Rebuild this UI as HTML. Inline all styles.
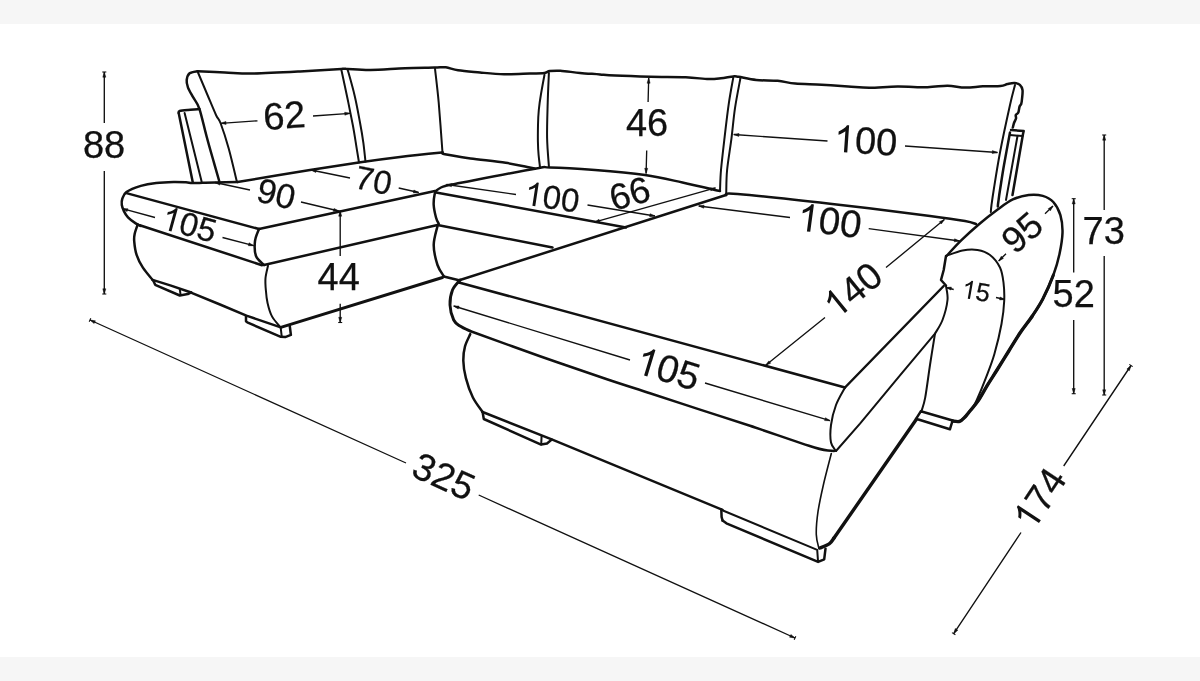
<!DOCTYPE html>
<html><head><meta charset="utf-8"><title>Sofa dimensions</title>
<style>
html,body{margin:0;padding:0;background:#fff;}
body{width:1200px;height:681px;overflow:hidden;position:relative;font-family:"Liberation Sans",sans-serif;}
.top{position:absolute;left:0;top:0;width:1200px;height:24px;background:#f6f6f6;}
.bot{position:absolute;left:0;top:657px;width:1200px;height:24px;background:#f6f6f6;}
svg{position:absolute;left:0;top:0;will-change:transform;filter:blur(0.35px);}
text{font-family:"Liberation Sans",sans-serif;fill:#111;stroke:#111;stroke-width:0.25px;}
g.lbl path{stroke:none;}
</style></head><body>
<div class="top"></div><div class="bot"></div>
<svg width="1200" height="681" viewBox="0 0 1200 681">
<g fill="none" stroke="#111" stroke-width="2.5" stroke-linecap="round" stroke-linejoin="round">
<path d="M219.2,181.0 C218.3,178.0 216.2,170.5 214.1,163.1 C212.0,155.7 209.1,145.8 206.7,136.7 C204.2,127.6 201.6,115.3 199.4,108.8 C197.2,102.3 195.3,101.2 193.4,97.7 C191.5,94.2 189.1,90.5 188.0,87.6 C186.9,84.6 186.4,82.4 186.7,80.0 C187.0,77.6 187.8,74.8 189.6,73.3 C191.4,71.8 196.3,71.5 197.6,71.2"/>
<path d="M197.6,71.2 C202.2,71.4 215.8,72.1 225.0,72.5 C234.2,72.9 240.3,73.8 252.8,73.6 C265.3,73.4 285.2,72.3 300.0,71.5 C314.8,70.7 333.5,69.3 341.4,68.9 C349.3,68.5 342.8,68.8 347.6,69.0 C352.5,69.2 360.9,70.1 370.5,70.0 C380.1,69.9 394.4,68.7 405.0,68.3 C415.6,67.9 427.6,67.8 434.4,67.6 C441.2,67.4 441.9,66.8 445.8,67.3 C449.8,67.8 452.4,69.4 458.1,70.3 C463.8,71.2 472.4,71.8 480.0,72.5 C487.6,73.2 495.7,74.1 504.0,74.3 C512.3,74.5 523.2,73.8 530.0,73.6 C536.8,73.4 541.2,73.3 544.5,72.9 C547.8,72.5 547.1,71.4 549.8,71.1 C552.4,70.8 555.4,70.5 560.4,70.8 C565.4,71.1 573.4,72.3 580.0,72.9 C586.6,73.5 594.1,74.0 600.0,74.5 C605.9,75.0 606.8,75.2 615.2,75.6 C623.6,76.0 638.8,76.5 650.5,76.8 C662.2,77.1 676.0,76.9 685.7,77.3 C695.4,77.7 702.7,78.9 708.6,79.1 C714.5,79.2 716.9,78.7 721.0,78.2 C725.1,77.8 730.4,76.6 733.3,76.4 C736.2,76.2 734.8,76.2 738.6,76.8 C742.4,77.4 749.7,79.3 756.2,80.0 C762.7,80.7 771.1,80.2 777.6,80.8 C784.1,81.4 787.9,82.9 795.2,83.6 C802.6,84.2 812.9,84.2 821.7,84.7 C830.5,85.2 840.2,85.9 848.1,86.4 C856.0,86.9 861.1,87.7 869.3,87.7 C877.5,87.7 887.7,86.7 897.4,86.6 C907.1,86.5 919.0,87.3 927.4,87.2 C935.8,87.1 941.3,85.6 947.6,85.7 C953.9,85.8 959.3,87.5 965.2,87.6 C971.1,87.7 977.0,86.6 982.9,86.3 C988.8,86.0 996.4,86.4 1000.5,86.0 C1004.6,85.6 1005.1,84.5 1007.5,84.0 C1009.9,83.5 1012.5,82.8 1014.6,83.0 C1016.7,83.2 1018.6,83.7 1019.9,84.9 C1021.2,86.1 1022.1,87.7 1022.5,90.0 C1022.9,92.3 1022.2,96.7 1022.0,99.0 C1021.8,101.3 1021.6,102.8 1021.2,104.0 C1020.8,105.2 1020.1,105.1 1019.6,106.5 C1019.1,107.9 1018.9,111.1 1018.3,112.5 C1017.7,113.9 1016.2,114.0 1015.8,115.0 C1015.4,116.0 1016.3,117.2 1016.0,118.5 C1015.7,119.8 1014.5,121.5 1014.0,123.0 C1013.5,124.5 1013.0,126.8 1012.8,127.5"/>
<path d="M199.4,109.0 C197.5,109.2 191.3,109.6 188.0,109.9 C184.7,110.2 181.2,110.5 179.6,111.0 C178.0,111.5 178.8,112.7 178.7,113.0"/>
<path d="M178.7,113.0 L192.7,182.0"/>
<path d="M237.5,182.0 C249.6,180.0 289.8,173.2 310.0,170.0 C330.2,166.8 343.7,164.7 358.7,162.5 C373.7,160.3 386.0,158.7 400.0,157.0 C414.0,155.3 435.4,153.2 442.5,152.5"/>
<path d="M442.5,152.3 C442.9,152.6 440.3,153.3 445.0,154.3 C449.7,155.3 460.4,157.0 470.5,158.4 C480.6,159.8 496.0,161.3 505.7,162.8 C515.4,164.3 523.7,166.2 528.6,167.2 C533.5,168.2 533.9,168.4 535.0,168.7"/>
<path d="M1010.0,132.5 C1009.0,137.9 1005.7,155.4 1004.0,165.0 C1002.3,174.6 1001.0,183.8 1000.0,190.0 C999.0,196.2 998.7,199.3 998.3,202.0 C997.9,204.7 997.9,205.7 997.8,206.4"/>
<path d="M1011.0,130.0 L1023.7,131.0 L1023.0,134.0 L1012.5,195.0"/>
<path d="M140.8,226.0 C140.0,225.6 137.8,224.8 135.7,223.4 C133.6,222.0 130.0,219.4 128.0,217.3 C126.0,215.2 124.9,213.2 123.9,211.1 C122.9,209.0 122.1,207.1 121.8,205.0 C121.5,202.9 121.5,201.0 122.3,198.8 C123.1,196.7 123.3,194.2 126.4,192.1 C129.5,189.9 135.8,187.4 140.8,185.9 C145.8,184.4 150.7,183.6 156.2,182.9 C161.7,182.2 168.7,182.0 173.7,181.9 C178.7,181.8 182.9,182.1 186.0,182.3 C189.1,182.5 189.4,182.9 192.2,183.0 C194.9,183.1 198.7,182.9 202.5,182.8 C206.3,182.7 209.2,182.6 215.0,182.5 C220.8,182.4 233.8,182.1 237.5,182.0"/>
<path d="M126.4,193.1 L259.0,229.0"/>
<path d="M259.0,229.0 L435.0,191.0"/>
<path d="M259.0,229.0 C258.3,231.0 255.5,236.5 255.0,241.0 C254.5,245.5 254.5,252.0 256.0,256.0 C257.5,260.0 262.7,263.5 264.0,265.0"/>
<path d="M139.8,225.2 L262.0,265.2"/>
<path d="M264.0,265.0 L437.5,225.0"/>
<path d="M137.7,224.5 C137.2,226.0 135.3,230.9 134.7,233.7 C134.1,236.5 133.9,237.5 134.2,241.1 C134.5,244.7 135.2,250.8 136.7,255.2 C138.1,259.6 140.2,263.5 142.9,267.6 C145.6,271.7 151.0,277.8 152.6,279.9"/>
<path d="M152.6,279.9 L171.0,285.6 L190.4,292.3 L220.0,304.5 L246.4,315.6 L280.8,327.4"/>
<path d="M153.2,280.5 L155.2,284.8 L179.8,295.5 L187.8,294.1 L191.3,292.3"/>
<path d="M246.0,316.0 L246.0,321.3 L247.3,322.4 L280.8,336.8 L285.2,337.1 L290.9,334.9 L289.7,325.5"/>
<path d="M438.7,223.7 C438.2,222.7 436.8,220.6 436.0,217.5 C435.2,214.4 433.9,208.8 433.7,205.0 C433.5,201.2 434.1,196.9 434.6,194.5 C435.1,192.1 435.5,191.6 436.6,190.4 C437.7,189.2 439.4,188.3 441.0,187.5 C442.6,186.7 443.7,186.4 446.0,185.8 C448.3,185.2 440.2,186.8 455.0,183.9 C469.8,181.1 519.2,171.4 535.0,168.7 C550.8,166.0 540.0,167.3 550.0,167.5 C560.0,167.7 579.2,168.8 595.0,170.0 C610.8,171.2 630.4,172.9 645.0,175.0 C659.6,177.1 670.0,179.8 682.5,182.5 C695.0,185.2 713.8,189.6 720.0,191.0"/>
<path d="M436.0,192.5 L626.0,227.4"/>
<path d="M437.5,225.0 L552.5,247.5"/>
<path d="M437.5,226.0 C436.9,229.2 433.7,238.5 433.7,245.0 C433.7,251.5 435.8,259.8 437.5,265.0 C439.2,270.2 442.7,274.2 443.7,276.0"/>
<path d="M443.7,276.5 L460.0,280.5"/>
<path d="M460.0,280.0 L726.0,195.0"/>
<path d="M726.0,195.0 C727.9,194.8 720.2,192.6 737.5,194.0 C754.8,195.4 797.9,200.0 830.0,203.7 C862.1,207.4 907.5,213.1 930.0,216.0 C952.5,218.9 957.3,219.7 965.0,221.0 C972.7,222.3 974.2,223.5 976.0,224.0"/>
<path d="M458.0,282.2 L845.0,387.5"/>
<path d="M470.0,331.0 C481.7,335.2 517.3,348.2 540.0,356.2 C562.7,364.2 587.9,372.8 606.2,379.0 C624.5,385.2 634.4,388.1 650.0,393.2 C665.6,398.3 683.3,404.2 700.0,409.6 C716.7,415.0 730.9,419.5 750.0,425.8 C769.1,432.1 800.5,443.3 814.5,447.5 C828.5,451.7 830.8,450.4 834.0,451.0"/>
<path d="M845.0,387.5 L943.7,286.0"/>
<path d="M470.3,334.1 C469.4,336.2 466.2,342.0 465.0,346.4 C463.8,350.8 463.2,355.2 463.3,360.5 C463.4,365.8 464.3,371.9 465.9,378.1 C467.5,384.3 470.1,391.9 472.9,397.5 C475.7,403.1 481.0,409.6 482.6,412.0"/>
<path d="M482.6,412.0 L551.7,439.3 L722.5,509.8"/>
<path d="M482.6,412.0 L483.8,419.0 L541.1,444.6 L547.0,443.5 L551.7,439.6"/>
<path d="M721.3,509.5 L721.6,517.0 L722.6,520.6"/>
<path d="M722.6,520.6 L726.4,523.3 L818.1,561.9 L824.2,559.3 L825.5,548.7"/>
<path d="M920.8,411.3 L952.6,420.5 L949.9,429.3 L916.0,418.8 L920.8,411.3"/>
<path d="M952.6,421.0 C953.8,421.1 957.5,422.1 959.6,421.4 C961.7,420.7 963.4,418.6 965.0,417.0 C966.6,415.4 967.1,414.4 969.3,411.7 C971.5,409.0 975.3,405.0 978.3,400.6 C981.3,396.2 984.2,390.4 987.3,385.3 C990.4,380.2 993.5,375.6 997.0,370.0 C1000.5,364.4 1004.7,357.7 1008.5,351.5 C1012.3,345.3 1016.1,338.8 1020.0,333.0 C1023.9,327.2 1028.2,322.2 1032.0,316.5 C1035.8,310.8 1039.2,305.9 1042.8,299.0 C1046.3,292.1 1050.5,282.7 1053.3,275.2 C1056.1,267.7 1058.0,261.1 1059.5,254.0 C1061.0,246.9 1062.3,239.4 1062.5,232.9 C1062.7,226.4 1061.9,220.3 1060.4,215.2 C1058.9,210.0 1056.2,205.2 1053.3,202.0 C1050.4,198.8 1046.9,197.1 1042.8,195.9 C1038.7,194.7 1033.7,194.4 1028.7,195.0 C1023.7,195.6 1018.1,196.9 1012.8,199.4 C1007.5,201.9 1002.6,205.9 997.0,210.0 C991.4,214.1 985.2,219.0 979.3,224.0 C973.4,229.0 967.2,234.6 961.7,239.9 C956.2,245.2 949.0,253.3 946.5,256.0"/>
<path d="M946.0,256.0 L943.7,270.0 L941.0,280.0 L946.0,285.5"/>
</g>
<g fill="none" stroke="#111" stroke-width="3.4" stroke-linecap="round" stroke-linejoin="round">
<path d="M819.8,548.0 C821.4,547.3 827.1,545.3 829.5,543.6 C831.9,541.9 833.2,538.9 834.0,538.0"/>
<path d="M834.0,538.0 L916.4,419.3"/>
<path d="M952.6,421.0 C953.8,421.1 957.5,422.1 959.6,421.4 C961.7,420.7 963.4,418.6 965.0,417.0 C966.6,415.4 967.1,414.4 969.3,411.7 C971.5,409.0 975.3,405.0 978.3,400.6 C981.3,396.2 984.2,390.4 987.3,385.3 C990.4,380.2 993.5,375.6 997.0,370.0 C1000.5,364.4 1004.7,357.7 1008.5,351.5 C1012.3,345.3 1016.1,338.8 1020.0,333.0 C1023.9,327.2 1028.2,322.2 1032.0,316.5"/>
</g>
<g fill="none" stroke="#111" stroke-width="1.6" stroke-linecap="round" stroke-linejoin="round">
<path d="M831.3,453.5 C830.0,458.8 825.5,475.5 823.3,485.2 C821.1,494.9 819.2,503.5 818.0,511.7 C816.8,519.9 816.1,528.4 816.3,534.6 C816.5,540.8 818.5,546.4 819.0,548.7"/>
</g>
<g fill="none" stroke="#111" stroke-width="2.0" stroke-linecap="round" stroke-linejoin="round">
<path d="M198.0,72.5 C199.6,76.2 204.5,87.9 207.5,95.0 C210.5,102.1 213.8,110.2 216.0,115.0 C218.2,119.8 218.6,117.9 220.7,123.5 C222.8,129.1 226.0,138.8 228.7,148.5 C231.4,158.2 235.5,176.0 236.8,181.5"/>
<path d="M184.6,113.0 L201.6,181.5"/>
<path d="M341.4,70.0 C342.4,74.8 345.7,89.8 347.6,99.0 C349.5,108.2 351.4,117.6 352.9,125.5 C354.4,133.4 355.4,140.4 356.4,146.6 C357.4,152.8 358.6,159.8 359.0,162.5"/>
<path d="M347.6,69.5 C348.8,73.8 352.6,86.8 354.6,95.5 C356.7,104.2 358.4,114.1 359.9,122.0 C361.4,129.9 362.5,136.5 363.4,143.1 C364.3,149.7 365.1,158.5 365.5,161.6"/>
<path d="M435.0,68.7 C435.6,74.3 437.4,88.5 438.7,102.5 C439.9,116.5 441.9,144.2 442.5,152.5"/>
<path d="M544.5,74.7 C543.9,77.9 542.0,88.1 541.0,94.0 C540.0,99.9 539.3,104.8 538.8,110.0 C538.3,115.2 538.1,119.7 538.0,125.0 C537.9,130.3 537.8,136.6 537.9,141.6 C538.0,146.6 538.2,150.7 538.6,155.0 C539.0,159.3 539.8,165.2 540.0,167.2"/>
<path d="M548.9,72.9 C548.7,77.9 548.0,92.0 547.7,102.9 C547.4,113.8 546.9,127.5 547.1,138.1 C547.3,148.7 548.6,161.6 548.9,166.3"/>
<path d="M733.3,77.3 C732.6,81.6 730.4,92.8 728.9,102.9 C727.4,113.0 725.8,126.9 724.5,138.1 C723.2,149.3 721.8,161.2 721.0,170.0 C720.2,178.8 720.2,187.5 720.0,191.0"/>
<path d="M740.4,78.2 C739.5,83.2 736.5,98.1 735.0,108.1 C733.5,118.1 732.8,127.8 731.5,138.1 C730.2,148.4 728.0,160.7 727.1,170.0 C726.2,179.3 726.4,189.8 726.2,193.7"/>
<path d="M1015.0,85.0 C1014.2,88.3 1012.5,93.8 1010.0,105.0 C1007.5,116.2 1002.7,138.3 1000.0,152.5 C997.3,166.7 995.1,181.2 993.7,190.0 C992.3,198.8 992.0,201.3 991.5,205.0 C991.0,208.7 990.9,210.8 990.8,212.0"/>
<path d="M1010.0,135.0 L1022.5,136.0"/>
<path d="M1017.5,136.0 L1006.0,200.0"/>
<path d="M268.0,265.8 C267.6,267.9 265.9,274.0 265.5,278.1 C265.1,282.2 265.5,286.3 265.9,290.5 C266.2,294.7 266.6,298.9 267.6,303.2 C268.6,307.5 269.9,312.5 272.0,316.4 C274.1,320.3 278.6,324.9 279.9,326.6"/>
<path d="M179.8,289.3 L180.6,295.0"/>
<path d="M280.8,328.5 L281.7,336.3"/>
<path d="M845.0,387.5 C843.5,390.4 838.3,398.8 836.0,405.0 C833.7,411.2 831.8,418.8 831.0,425.0 C830.2,431.2 830.2,438.2 831.0,442.5 C831.8,446.8 835.2,449.6 836.0,451.0"/>
<path d="M836.0,451.0 L860.0,423.7 L900.0,375.3 L935.0,333.7"/>
<path d="M935.0,333.7 C934.2,338.9 931.6,354.4 930.0,365.0 C928.4,375.6 926.6,390.0 925.2,397.6 C923.8,405.2 922.3,408.3 921.7,410.4"/>
<path d="M541.6,436.0 L541.2,444.4"/>
<path d="M722.9,510.5 L817.2,549.8 L818.0,561.0"/>
<path d="M946.0,256.0 C948.8,255.1 957.2,251.5 962.5,250.5 C967.8,249.5 972.9,249.2 977.5,250.0 C982.1,250.8 986.2,252.1 990.0,255.0 C993.8,257.9 997.8,262.9 1000.0,267.5 C1002.2,272.1 1002.8,276.9 1003.5,282.5 C1004.2,288.1 1004.5,294.1 1004.2,301.0 C1003.9,307.9 1003.1,315.2 1001.5,324.0 C999.9,332.8 997.0,344.9 994.4,354.0 C991.8,363.1 988.5,371.0 985.6,378.7 C982.7,386.4 979.1,394.9 976.8,400.0 C974.5,405.1 972.8,407.5 972.0,409.0"/>
<path d="M946.0,286.0 C946.2,288.3 948.1,294.3 947.5,300.0 C946.9,305.7 944.6,314.4 942.5,320.0 C940.4,325.6 936.2,331.4 935.0,333.7"/>
</g>
<g fill="none" stroke="#111" stroke-width="1.35">
<path d="M104.3,72.0 L104.3,123.0 M104.3,171.0 L104.3,294.0"/>
<path d="M648.7,78.0 L648.1,102.0 M646.7,150.4 L646.1,173.5"/>
<path d="M340.2,211.0 L340.2,256.0 M340.2,303.7 L340.2,322.5"/>
<path d="M1073.7,198.7 L1073.7,272.5 M1073.7,320.0 L1073.7,393.7"/>
<path d="M1104.2,135.0 L1104.2,210.0 M1104.2,256.0 L1104.2,395.0"/>
<path d="M220.8,123.3 L257.5,120.8 M313.0,116.0 L350.0,113.3"/>
<path d="M733.7,134.5 L827.5,141.0 M905.0,146.0 L997.5,152.5"/>
<path d="M311.0,170.0 L350.0,178.0 M398.7,188.0 L418.7,192.5"/>
<path d="M215.0,182.5 L250.0,190.0 M301.0,202.0 L338.7,211.0"/>
<path d="M122.5,208.7 L155.0,217.5 M222.5,237.5 L253.7,245.7"/>
<path d="M446.5,184.5 L516.0,194.5 M587.5,205.0 L655.0,216.0"/>
<path d="M594.4,222.2 L715.5,187.9"/>
<path d="M698.7,206.0 L790.0,217.5 M868.7,228.7 L959.6,241.0"/>
<path d="M944.4,219.6 L886.0,267.5 M825.0,317.5 L765.7,365.3"/>
<path d="M453.7,306.0 L630.0,360.0 M705.0,383.0 L830.0,420.7"/>
<path d="M998.7,261.0 L1006.0,253.7 M1045.0,213.7 L1053.0,206.0"/>
<path d="M946.0,287.5 L953.7,289.5 M996.0,297.5 L1005.0,299.5"/>
<path d="M90.0,320.0 L406.0,463.0 M478.7,495.0 L795.0,638.0"/>
<path d="M1131.0,365.5 L1063.7,466.0 M1021.0,532.5 L953.7,633.7"/>
</g>
<path d="M280.8,327.4 L442.5,277.5" fill="none" stroke="#111" stroke-width="3.0" stroke-linecap="round" stroke-linejoin="round"/>
<path d="M460.0,280.0 C458.8,281.7 454.2,285.8 452.5,290.0 C450.8,294.2 449.8,300.0 450.0,305.0 C450.2,310.0 452.0,316.5 453.7,320.0 C455.4,323.5 457.3,324.2 460.0,326.0 C462.7,327.8 468.3,330.2 470.0,331.0" fill="none" stroke="#111" stroke-width="2.9" stroke-linecap="round" stroke-linejoin="round"/>
<path d="M1032.0,316.5 C1035.8,310.8 1039.2,305.9 1042.8,299.0 C1046.3,292.1 1050.5,282.7 1053.3,275.2" fill="none" stroke="#111" stroke-width="3.1" stroke-linecap="round"/>
<path d="M104.3,72.0 L105.8,77.2 L102.8,77.2Z" fill="#111" stroke="#111" stroke-width="0.5" stroke-linejoin="miter"/>
<path d="M104.3,294.0 L102.8,288.8 L105.8,288.8Z" fill="#111" stroke="#111" stroke-width="0.5" stroke-linejoin="miter"/>
<path d="M102.3,72.0 L106.3,72.0" stroke="#111" stroke-width="1.1" fill="none"/>
<path d="M102.3,294.0 L106.3,294.0" stroke="#111" stroke-width="1.1" fill="none"/>
<path d="M648.7,78.0 L650.1,83.2 L647.1,83.2Z" fill="#111" stroke="#111" stroke-width="0.5" stroke-linejoin="miter"/>
<path d="M646.1,173.5 L644.7,168.3 L647.7,168.3Z" fill="#111" stroke="#111" stroke-width="0.5" stroke-linejoin="miter"/>
<path d="M340.2,211.0 L341.7,216.2 L338.7,216.2Z" fill="#111" stroke="#111" stroke-width="0.5" stroke-linejoin="miter"/>
<path d="M340.2,322.5 L338.7,317.3 L341.7,317.3Z" fill="#111" stroke="#111" stroke-width="0.5" stroke-linejoin="miter"/>
<path d="M338.2,211.0 L342.2,211.0" stroke="#111" stroke-width="1.1" fill="none"/>
<path d="M338.2,322.5 L342.2,322.5" stroke="#111" stroke-width="1.1" fill="none"/>
<path d="M1073.7,198.7 L1075.2,203.9 L1072.2,203.9Z" fill="#111" stroke="#111" stroke-width="0.5" stroke-linejoin="miter"/>
<path d="M1073.7,393.7 L1072.2,388.5 L1075.2,388.5Z" fill="#111" stroke="#111" stroke-width="0.5" stroke-linejoin="miter"/>
<path d="M1071.7,198.7 L1075.7,198.7" stroke="#111" stroke-width="1.1" fill="none"/>
<path d="M1071.7,393.7 L1075.7,393.7" stroke="#111" stroke-width="1.1" fill="none"/>
<path d="M1104.2,135.0 L1105.7,140.2 L1102.7,140.2Z" fill="#111" stroke="#111" stroke-width="0.5" stroke-linejoin="miter"/>
<path d="M1104.2,395.0 L1102.7,389.8 L1105.7,389.8Z" fill="#111" stroke="#111" stroke-width="0.5" stroke-linejoin="miter"/>
<path d="M1102.2,135.0 L1106.2,135.0" stroke="#111" stroke-width="1.1" fill="none"/>
<path d="M1102.2,395.0 L1106.2,395.0" stroke="#111" stroke-width="1.1" fill="none"/>
<path d="M220.8,123.3 L225.9,121.4 L226.1,124.4Z" fill="#111" stroke="#111" stroke-width="0.5" stroke-linejoin="miter"/>
<path d="M350.0,113.3 L344.9,115.2 L344.7,112.2Z" fill="#111" stroke="#111" stroke-width="0.5" stroke-linejoin="miter"/>
<path d="M733.7,134.5 L739.0,133.4 L738.8,136.4Z" fill="#111" stroke="#111" stroke-width="0.5" stroke-linejoin="miter"/>
<path d="M997.5,152.5 L992.2,153.6 L992.4,150.6Z" fill="#111" stroke="#111" stroke-width="0.5" stroke-linejoin="miter"/>
<path d="M311.0,170.0 L316.4,169.6 L315.8,172.5Z" fill="#111" stroke="#111" stroke-width="0.5" stroke-linejoin="miter"/>
<path d="M418.7,192.5 L413.3,192.9 L413.9,190.0Z" fill="#111" stroke="#111" stroke-width="0.5" stroke-linejoin="miter"/>
<path d="M215.0,182.5 L220.4,182.2 L219.7,185.1Z" fill="#111" stroke="#111" stroke-width="0.5" stroke-linejoin="miter"/>
<path d="M338.7,211.0 L333.3,211.3 L334.0,208.4Z" fill="#111" stroke="#111" stroke-width="0.5" stroke-linejoin="miter"/>
<path d="M122.5,208.7 L127.9,208.7 L127.1,211.6Z" fill="#111" stroke="#111" stroke-width="0.5" stroke-linejoin="miter"/>
<path d="M253.7,245.7 L248.3,245.7 L249.1,242.8Z" fill="#111" stroke="#111" stroke-width="0.5" stroke-linejoin="miter"/>
<path d="M446.5,184.5 L451.9,183.8 L451.4,186.8Z" fill="#111" stroke="#111" stroke-width="0.5" stroke-linejoin="miter"/>
<path d="M655.0,216.0 L649.6,216.7 L650.1,213.7Z" fill="#111" stroke="#111" stroke-width="0.5" stroke-linejoin="miter"/>
<path d="M594.4,222.2 L599.0,219.3 L599.8,222.2Z" fill="#111" stroke="#111" stroke-width="0.5" stroke-linejoin="miter"/>
<path d="M715.5,187.9 L710.9,190.8 L710.1,187.9Z" fill="#111" stroke="#111" stroke-width="0.5" stroke-linejoin="miter"/>
<path d="M698.7,206.0 L704.1,205.2 L703.7,208.2Z" fill="#111" stroke="#111" stroke-width="0.5" stroke-linejoin="miter"/>
<path d="M959.6,241.0 L954.2,241.8 L954.6,238.8Z" fill="#111" stroke="#111" stroke-width="0.5" stroke-linejoin="miter"/>
<path d="M944.4,219.6 L941.3,224.0 L939.4,221.7Z" fill="#111" stroke="#111" stroke-width="0.5" stroke-linejoin="miter"/>
<path d="M765.7,365.3 L768.8,360.9 L770.7,363.2Z" fill="#111" stroke="#111" stroke-width="0.5" stroke-linejoin="miter"/>
<path d="M453.7,306.0 L459.1,306.1 L458.2,309.0Z" fill="#111" stroke="#111" stroke-width="0.5" stroke-linejoin="miter"/>
<path d="M830.0,420.7 L824.6,420.6 L825.5,417.7Z" fill="#111" stroke="#111" stroke-width="0.5" stroke-linejoin="miter"/>
<path d="M998.7,261.0 L1001.3,256.2 L1003.4,258.4Z" fill="#111" stroke="#111" stroke-width="0.5" stroke-linejoin="miter"/>
<path d="M1053.0,206.0 L1050.4,210.8 L1048.3,208.6Z" fill="#111" stroke="#111" stroke-width="0.5" stroke-linejoin="miter"/>
<path d="M946.0,287.5 L951.4,287.1 L950.8,290.0Z" fill="#111" stroke="#111" stroke-width="0.5" stroke-linejoin="miter"/>
<path d="M1005.0,299.5 L999.6,299.9 L1000.2,297.0Z" fill="#111" stroke="#111" stroke-width="0.5" stroke-linejoin="miter"/>
<path d="M90.0,320.0 L95.4,320.8 L94.1,323.5Z" fill="#111" stroke="#111" stroke-width="0.5" stroke-linejoin="miter"/>
<path d="M795.0,638.0 L789.6,637.2 L790.9,634.5Z" fill="#111" stroke="#111" stroke-width="0.5" stroke-linejoin="miter"/>
<path d="M89.2,321.8 L90.8,318.2" stroke="#111" stroke-width="1.1" fill="none"/>
<path d="M794.2,639.8 L795.8,636.2" stroke="#111" stroke-width="1.1" fill="none"/>
<path d="M1131.0,365.5 L1129.4,370.7 L1126.9,369.0Z" fill="#111" stroke="#111" stroke-width="0.5" stroke-linejoin="miter"/>
<path d="M953.7,633.7 L955.3,628.5 L957.8,630.2Z" fill="#111" stroke="#111" stroke-width="0.5" stroke-linejoin="miter"/>
<path d="M1129.3,364.4 L1132.7,366.6" stroke="#111" stroke-width="1.1" fill="none"/>
<path d="M952.0,632.6 L955.4,634.8" stroke="#111" stroke-width="1.1" fill="none"/>
<g class="lbl" id="t0" transform="translate(104.0,144.5) rotate(0.0)"><text x="-21.14" y="13.60" font-size="38">8</text><text x="0.00" y="13.60" font-size="38">8</text></g>
<g class="lbl" id="t1" transform="translate(646.6,122.5) rotate(0.0)"><text x="-20.62" y="13.60" font-size="38">4</text><text x="0.51" y="13.60" font-size="38">6</text></g>
<g class="lbl" id="t2" transform="translate(338.4,276.6) rotate(0.0)"><text x="-20.81" y="13.60" font-size="38">4</text><text x="0.32" y="13.60" font-size="38">4</text></g>
<g class="lbl" id="t3" transform="translate(1073.7,293.0) rotate(0.0)"><text x="-21.08" y="13.60" font-size="38">5</text><text x="0.06" y="13.60" font-size="38">2</text></g>
<g class="lbl" id="t4" transform="translate(1103.7,230.5) rotate(0.0)"><text x="-21.17" y="13.60" font-size="38">7</text><text x="-0.04" y="13.60" font-size="38">3</text></g>
<g class="lbl" id="t5" transform="translate(284.2,115.0) rotate(-4.4)"><text x="-21.00" y="13.60" font-size="38">6</text><text x="0.13" y="13.60" font-size="38">2</text></g>
<g class="lbl" id="t6" transform="translate(867.0,140.3) rotate(3.9)"><path transform="translate(-33.00,13.60) scale(0.01855,-0.01855)" d="M763 0H583V1147Q518 1085 412.5 1023T223 930V1104Q374 1175 487 1276T647 1472H763Z" fill="#111"/><text x="-11.86" y="13.60" font-size="38">0</text><text x="9.28" y="13.60" font-size="38">0</text></g>
<g class="lbl" id="t7" transform="translate(373.8,180.0) rotate(11.8)"><text x="-18.45" y="11.81" font-size="33">7</text><text x="-0.10" y="11.81" font-size="33">0</text></g>
<g class="lbl" id="t8" transform="translate(276.4,193.4) rotate(13.0)"><text x="-19.21" y="12.35" font-size="34.5">9</text><text x="-0.02" y="12.35" font-size="34.5">0</text></g>
<g class="lbl" id="t9" transform="translate(190.4,224.4) rotate(15.5)"><path transform="translate(-28.65,11.81) scale(0.01611,-0.01611)" d="M763 0H583V1147Q518 1085 412.5 1023T223 930V1104Q374 1175 487 1276T647 1472H763Z" fill="#111"/><text x="-10.30" y="11.81" font-size="33">0</text><text x="8.06" y="11.81" font-size="33">5</text></g>
<g class="lbl" id="t10" transform="translate(553.2,197.0) rotate(8.6)"><path transform="translate(-28.65,11.81) scale(0.01611,-0.01611)" d="M763 0H583V1147Q518 1085 412.5 1023T223 930V1104Q374 1175 487 1276T647 1472H763Z" fill="#111"/><text x="-10.30" y="11.81" font-size="33">0</text><text x="8.06" y="11.81" font-size="33">0</text></g>
<g class="lbl" id="t11" transform="translate(629.6,193.0) rotate(-15.4)"><text x="-20.26" y="13.07" font-size="36.5">6</text><text x="0.04" y="13.07" font-size="36.5">6</text></g>
<g class="lbl" id="t12" transform="translate(831.0,220.7) rotate(7.6)"><path transform="translate(-33.43,13.78) scale(0.01880,-0.01880)" d="M763 0H583V1147Q518 1085 412.5 1023T223 930V1104Q374 1175 487 1276T647 1472H763Z" fill="#111"/><text x="-12.02" y="13.78" font-size="38.5">0</text><text x="9.40" y="13.78" font-size="38.5">0</text></g>
<g class="lbl" id="t13" transform="translate(853.5,288.7) rotate(-39.1)"><path transform="translate(-32.56,13.42) scale(0.01831,-0.01831)" d="M763 0H583V1147Q518 1085 412.5 1023T223 930V1104Q374 1175 487 1276T647 1472H763Z" fill="#111"/><text x="-11.70" y="13.42" font-size="37.5">4</text><text x="9.15" y="13.42" font-size="37.5">0</text></g>
<g class="lbl" id="t14" transform="translate(669.6,368.8) rotate(17.0)"><path transform="translate(-33.43,13.78) scale(0.01880,-0.01880)" d="M763 0H583V1147Q518 1085 412.5 1023T223 930V1104Q374 1175 487 1276T647 1472H763Z" fill="#111"/><text x="-12.02" y="13.78" font-size="38.5">0</text><text x="9.40" y="13.78" font-size="38.5">5</text></g>
<g class="lbl" id="t15" transform="translate(1021.8,232.0) rotate(-41.0)"><text x="-20.32" y="13.07" font-size="36.5">9</text><text x="-0.02" y="13.07" font-size="36.5">5</text></g>
<g class="lbl" id="t16" transform="translate(977.0,291.0) rotate(10.0)"><path transform="translate(-15.05,9.13) scale(0.01245,-0.01245)" d="M763 0H583V1147Q518 1085 412.5 1023T223 930V1104Q374 1175 487 1276T647 1472H763Z" fill="#111"/><text x="-0.87" y="9.13" font-size="25.5">5</text></g>
<g class="lbl" id="t17" transform="translate(444.0,476.0) rotate(24.3)"><text x="-31.72" y="13.60" font-size="38">3</text><text x="-10.59" y="13.60" font-size="38">2</text><text x="10.55" y="13.60" font-size="38">5</text></g>
<g class="lbl" id="t18" transform="translate(1040.0,496.9) rotate(-56.5)"><path transform="translate(-33.20,13.60) scale(0.01855,-0.01855)" d="M763 0H583V1147Q518 1085 412.5 1023T223 930V1104Q374 1175 487 1276T647 1472H763Z" fill="#111"/><text x="-12.07" y="13.60" font-size="38">7</text><text x="9.07" y="13.60" font-size="38">4</text></g>
</svg>
</body></html>
